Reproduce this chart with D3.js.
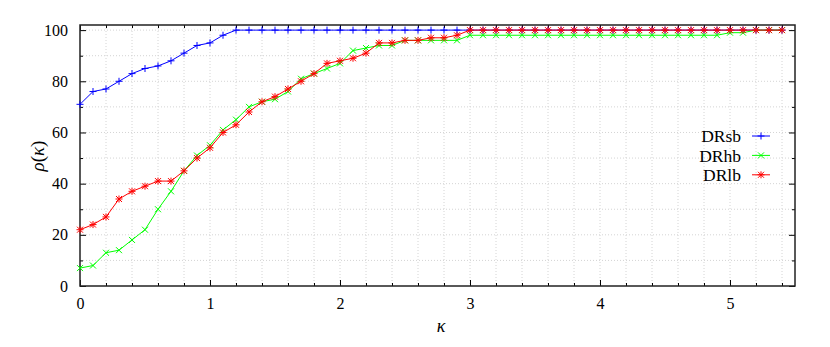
<!DOCTYPE html>
<html>
<head>
<meta charset="utf-8">
<script src="https://cdn.jsdelivr.net/npm/d3@7"></script>
<style>
  body { margin: 0; background: #fff; }
  svg { display: block; }
  svg text { font-family: "Liberation Serif", "DejaVu Serif", serif; fill: #000; }
  .grid line { stroke: #d4d4d4; stroke-width: 1; stroke-dasharray: 1,2; }
</style>
</head>
<body>
<svg id="chart" width="830" height="347"></svg>
<script>
// kappa values (x) and the three rho(kappa) series
var kappa = [0.0, 0.1, 0.2, 0.3, 0.4, 0.5, 0.6, 0.7, 0.8, 0.9,
             1.0, 1.1, 1.2, 1.3, 1.4, 1.5, 1.6, 1.7, 1.8, 1.9,
             2.0, 2.1, 2.2, 2.3, 2.4, 2.5, 2.6, 2.7, 2.8, 2.9,
             3.0, 3.1, 3.2, 3.3, 3.4, 3.5, 3.6, 3.7, 3.8, 3.9,
             4.0, 4.1, 4.2, 4.3, 4.4, 4.5, 4.6, 4.7, 4.8, 4.9,
             5.0, 5.1, 5.2, 5.3, 5.4];

var drsb = [71, 76, 77, 80, 83, 85, 86, 88, 91, 94,
            95, 98, 100, 100, 100, 100, 100, 100, 100, 100,
            100, 100, 100, 100, 100, 100, 100, 100, 100, 100,
            100, 100, 100, 100, 100, 100, 100, 100, 100, 100,
            100, 100, 100, 100, 100, 100, 100, 100, 100, 100,
            100, 100, 100, 100, 100];

var drhb = [7, 8, 13, 14, 18, 22, 30, 37, 45, 51,
            55, 61, 65, 70, 72, 73, 76, 81, 83, 85,
            87, 92, 93, 94, 94, 96, 96, 96, 96, 96,
            98, 98, 98, 98, 98, 98, 98, 98, 98, 98,
            98, 98, 98, 98, 98, 98, 98, 98, 98, 98,
            99, 99, 100, 100, 100];

var drlb = [22, 24, 27, 34, 37, 39, 41, 41, 45, 50,
            54, 60, 63, 68, 72, 74, 77, 80, 83, 87,
            88, 89, 91, 95, 95, 96, 96, 97, 97, 98,
            100, 100, 100, 100, 100, 100, 100, 100, 100, 100,
            100, 100, 100, 100, 100, 100, 100, 100, 100, 100,
            100, 100, 100, 100, 100];

var xMajor = [0, 1, 2, 3, 4, 5];
var xMinor = [0.2, 0.4, 0.6, 0.8, 1.2, 1.4, 1.6, 1.8, 2.2, 2.4, 2.6, 2.8,
              3.2, 3.4, 3.6, 3.8, 4.2, 4.4, 4.6, 4.8, 5.2, 5.4];
var yMajor = [0, 20, 40, 60, 80, 100];
var yMinor = [10, 30, 50, 70, 90];

var seriesNames = ["DRsb", "DRhb", "DRlb"];
var seriesValues = [drsb, drhb, drlb];
var seriesColors = ["#0000ff", "#00ff00", "#ff0000"];
var seriesMarks = ["plus", "cross", "star"];

var plotL = 80, plotR = 795, plotT = 25, plotB = 286;

var svg = d3.select("#chart");

var x = d3.scaleLinear().domain([0, 5.5]).range([plotL, plotR]);
var y = d3.scaleLinear().domain([0, 102]).range([plotB, plotT]);

// dotted grid
var grid = svg.append("g").attr("class", "grid");
grid.selectAll("line.gx")
    .data(xMinor.concat(xMajor.slice(1)))
    .enter().append("line")
    .attr("x1", function(d){ return x(d); })
    .attr("x2", function(d){ return x(d); })
    .attr("y1", plotT).attr("y2", plotB);
grid.selectAll("line.gy")
    .data(yMinor.concat(yMajor.slice(1)))
    .enter().append("line")
    .attr("x1", plotL).attr("x2", plotR)
    .attr("y1", function(d){ return y(d); })
    .attr("y2", function(d){ return y(d); });

// axes, ticks pointing inward, mirrored on top / right
function tickStyle(g){
    g.attr("font-family", null).attr("font-size", null);
    g.select(".domain").remove();
    g.selectAll(".tick line").attr("stroke", "#000").attr("stroke-width", 1);
    g.selectAll(".tick text").style("font-size", "16px");
}
svg.append("g").attr("transform", "translate(0," + plotB + ")")
    .call(d3.axisBottom(x).tickValues(xMajor).tickSize(-6).tickPadding(12).tickFormat(d3.format("d")))
    .call(tickStyle);
svg.append("g").attr("transform", "translate(0," + plotB + ")")
    .call(d3.axisBottom(x).tickValues(xMinor).tickSize(-3).tickFormat(""))
    .call(tickStyle);
svg.append("g").attr("transform", "translate(0," + plotT + ")")
    .call(d3.axisTop(x).tickValues(xMajor).tickSize(-6).tickFormat(""))
    .call(tickStyle);
svg.append("g").attr("transform", "translate(0," + plotT + ")")
    .call(d3.axisTop(x).tickValues(xMinor).tickSize(-3).tickFormat(""))
    .call(tickStyle);

svg.append("g").attr("transform", "translate(" + plotL + ",0)")
    .call(d3.axisLeft(y).tickValues(yMajor).tickSize(-6).tickPadding(12).tickFormat(d3.format("d")))
    .call(tickStyle);
svg.append("g").attr("transform", "translate(" + plotL + ",0)")
    .call(d3.axisLeft(y).tickValues(yMinor).tickSize(-3).tickFormat(""))
    .call(tickStyle);
svg.append("g").attr("transform", "translate(" + plotR + ",0)")
    .call(d3.axisRight(y).tickValues(yMajor).tickSize(-6).tickFormat(""))
    .call(tickStyle);
svg.append("g").attr("transform", "translate(" + plotR + ",0)")
    .call(d3.axisRight(y).tickValues(yMinor).tickSize(-3).tickFormat(""))
    .call(tickStyle);

// frame
svg.append("rect")
    .attr("x", plotL).attr("y", plotT)
    .attr("width", plotR - plotL).attr("height", plotB - plotT)
    .attr("fill", "none").attr("stroke", "#222").attr("stroke-width", 1.5);

// marker shapes
var markPaths = {
    plus: "M-3.5,0h7M0,-3.5v7",
    cross: "M-3,-3l6,6M-3,3l6,-6",
    star: "M-3.5,0h7M0,-3.5v7M-3,-3l6,6M-3,3l6,-6"
};

var line = d3.line()
    .x(function(d){ return x(d[0]); })
    .y(function(d){ return y(d[1]); });

seriesValues.forEach(function(vals, si){
    var pts = kappa.map(function(k, i){ return [k, vals[i]]; });
    var g = svg.append("g");
    g.append("path")
        .datum(pts)
        .attr("d", line)
        .attr("fill", "none")
        .attr("stroke", seriesColors[si])
        .attr("stroke-width", 1);
    g.selectAll("path.mk")
        .data(pts)
        .enter().append("path")
        .attr("class", "mk")
        .attr("transform", function(d){ return "translate(" + x(d[0]) + "," + y(d[1]) + ")"; })
        .attr("d", markPaths[seriesMarks[si]])
        .attr("stroke", seriesColors[si])
        .attr("stroke-width", 1)
        .attr("fill", "none");
});

// legend
var legend = svg.append("g");
seriesNames.forEach(function(name, i){
    var ly = 136 + i * 19.4;
    legend.append("text")
        .attr("x", 741).attr("y", ly)
        .attr("dy", "0.35em")
        .attr("text-anchor", "end")
        .style("font-size", "17.5px")
        .text(name);
    legend.append("line")
        .attr("x1", 752).attr("x2", 770)
        .attr("y1", ly).attr("y2", ly)
        .attr("stroke", seriesColors[i]).attr("stroke-width", 1);
    legend.append("path")
        .attr("transform", "translate(761," + ly + ")")
        .attr("d", markPaths[seriesMarks[i]])
        .attr("stroke", seriesColors[i]).attr("stroke-width", 1).attr("fill", "none");
});

// axis labels
svg.append("text")
    .attr("x", 441).attr("y", 332)
    .attr("text-anchor", "middle")
    .style("font-size", "18px")
    .style("font-style", "italic")
    .text("κ");

var yl = svg.append("text")
    .attr("transform", "translate(44,156) rotate(-90)")
    .attr("text-anchor", "middle")
    .style("font-size", "19px");
yl.append("tspan").style("font-style", "italic").text("ρ");
yl.append("tspan").text("(");
yl.append("tspan").style("font-style", "italic").text("κ");
yl.append("tspan").text(")");
</script>
</body>
</html>
